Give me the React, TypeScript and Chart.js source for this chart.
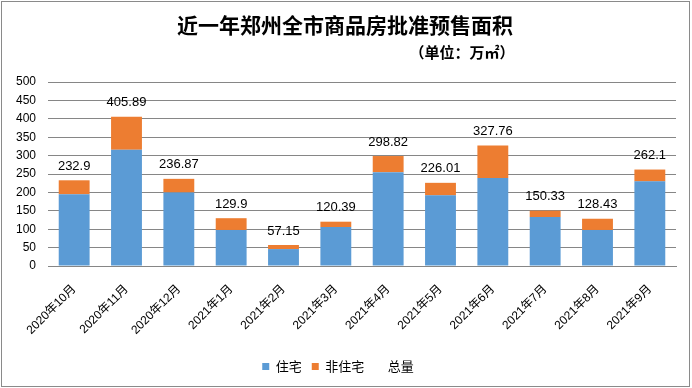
import React, { useEffect, useRef } from "react";
import { Chart, registerables } from "chart.js";

Chart.register(...registerables);

const categories = [
  "2020年10月", "2020年11月", "2020年12月", "2021年1月", "2021年2月", "2021年3月",
  "2021年4月", "2021年5月", "2021年6月", "2021年7月", "2021年8月", "2021年9月",
];
const totals = [232.9, 405.89, 236.87, 129.9, 57.15, 120.39, 298.82, 226.01, 327.76, 150.33, 128.43, 262.1];
const residential = [195, 316, 200, 98, 46, 106, 255, 192, 239, 133, 98, 230];
const nonResidential = totals.map((t, i) => Math.round((t - residential[i]) * 100) / 100);
const titleText = "近一年郑州全市商品房批准预售面积";
const subtitleText = "（单位：万㎡）";

const FONT = "'Liberation Sans', 'Noto Sans CJK SC', sans-serif";
const CJK = "'Noto Sans CJK SC', sans-serif";

const framePlugin = {
  id: "frame",
  beforeDraw(chart: any) {
    const ctx = chart.ctx;
    ctx.save();
    ctx.fillStyle = "#ffffff";
    ctx.fillRect(0, 0, chart.width, chart.height);
    ctx.strokeStyle = "#8a8a8a";
    ctx.lineWidth = 1;
    ctx.strokeRect(1.5, 1.5, chart.width - 4, chart.height - 3);
    ctx.restore();
  },
  afterDraw(chart: any) {
    const ctx = chart.ctx;
    ctx.save();
    ctx.fillStyle = "#000";
    ctx.textAlign = "center";
    ctx.textBaseline = "middle";
    ctx.font = `bold 21px ${CJK}`;
    ctx.fillText(titleText, 345, 25);
    ctx.font = `bold 15px ${CJK}`;
    ctx.fillText(subtitleText, 462, 52);
    const meta = chart.getDatasetMeta(2);
    ctx.font = `13px ${FONT}`;
    ctx.textBaseline = "middle";
    meta.data.forEach((pt: any, i: number) => {
      ctx.fillText(String(totals[i]), pt.x, pt.y - 14);
    });
    ctx.restore();
  },
};

export default function App() {
  const ref = useRef<HTMLCanvasElement>(null);
  useEffect(() => {
    if (!ref.current) return;
    const chart = new Chart(ref.current, {
      type: "bar",
      data: {
        labels: categories,
        datasets: [
          {
            label: "住宅",
            data: residential,
            backgroundColor: "#5B9BD5",
            stack: "a",
            barPercentage: 0.59,
            categoryPercentage: 1,
          } as any,
          {
            label: "非住宅",
            data: nonResidential,
            backgroundColor: "#ED7D31",
            stack: "a",
            barPercentage: 0.59,
            categoryPercentage: 1,
          } as any,
          {
            type: "line",
            label: "总量",
            data: totals,
            borderColor: "transparent",
            backgroundColor: "transparent",
            pointRadius: 0,
            showLine: false,
            stack: "total",
          } as any,
        ],
      },
      options: {
        responsive: false,
        animation: false,
        devicePixelRatio: 1,
        layout: { padding: { left: 0, right: 16, top: 82, bottom: 5 } },
        plugins: {
          title: { display: false },
          tooltip: { enabled: false },
          legend: {
            position: "bottom",
            labels: {
              boxWidth: 7,
              boxHeight: 7,
              padding: 10,
              color: "#000",
              font: { size: 13, family: CJK },
            },
          },
        },
        scales: {
          x: {
            stacked: true,
            grid: { display: false },
            border: { color: "#868686" },
            ticks: {
              minRotation: 45,
              maxRotation: 45,
              color: "#000",
              font: { size: 12, family: FONT },
              padding: 8,
            },
            afterFit(scale: any) {
              scale.height = 84;
            },
          },
          y: {
            stacked: true,
            min: 0,
            max: 500,
            ticks: {
              stepSize: 50,
              color: "#000",
              font: { size: 12, family: FONT },
              padding: 12,
            },
            grid: { color: "#868686", drawTicks: false },
            border: { display: false },
            afterFit(scale: any) {
              scale.width = 48;
            },
          },
        },
      },
      plugins: [framePlugin],
    });
    return () => chart.destroy();
  }, []);
  return (
    <div style={{ position: "absolute", left: 0, top: 0, width: 692, height: 388 }}>
      <canvas ref={ref} width={692} height={388} style={{ display: "block" }} />
    </div>
  );
}
